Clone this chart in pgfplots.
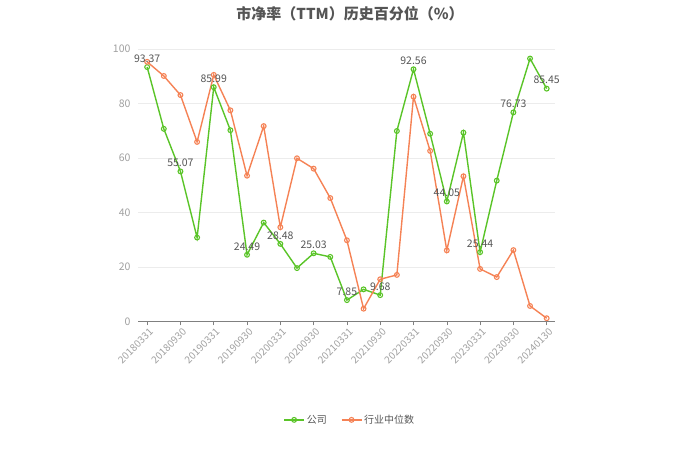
\documentclass[border=0pt]{standalone}
\usepackage{pgfplots}
\pgfplotsset{compat=1.18}
\usepackage{fontspec}
\setmainfont{Noto Sans CJK SC}
\definecolor{cgreen}{RGB}{90,196,40}
\definecolor{corange}{RGB}{245,130,85}
\definecolor{tickgray}{RGB}{160,160,160}
\definecolor{labgray}{RGB}{85,85,85}
\begin{document}
\begin{tikzpicture}[x=1pt,y=1pt]
\path (0,0) rectangle (700,473);
\node[font=\bfseries\fontsize{15}{17}\selectfont, text=labgray] at (350,459) {市净率（TTM）历史百分位（\%）};
\begin{axis}[
  at={(138pt,151.5pt)}, anchor=south west,
  scale only axis, width=417pt, height=272.5pt,
  xmin=-0.55, xmax=24.5, ymin=0, ymax=100,
  axis y line*=left, axis x line*=bottom,
  y axis line style={draw=none},
  x axis line style={draw=gray, line width=0.8pt},
  ytick={0,20,40,60,80,100},
  ymajorgrids, grid style={draw=gray!15, line width=0.6pt},
  major y tick style={draw=none},
  xtick={0,2,...,24},
  xticklabels={20180331,20180930,20190331,20190930,20200331,20200930,20210331,20210930,20220331,20220930,20230331,20230930,20240130},
  x tick label style={rotate=45, anchor=north east, font=\fontsize{10}{10}\selectfont, text=tickgray, inner sep=0.5pt, yshift=-2pt},
  y tick label style={font=\fontsize{10.5}{10}\selectfont, text=tickgray},
  /pgf/number format/assume math mode=true,
  major x tick style={draw=gray, line width=0.6pt},
  tick align=outside, major tick length=4pt,
  clip=false,
  legend style={at={(0.508,-0.361)}, anchor=center, draw=none, fill=none,
    legend columns=2, font=\fontsize{10}{10}\selectfont, text=labgray,
    /tikz/every even column/.append style={column sep=12pt}},
  legend cell align=left,
  legend image code/.code={\draw[#1, mark repeat=2, mark phase=2] plot coordinates {(0pt,0pt) (10pt,0pt) (20pt,0pt)};},
]
\addplot[color=cgreen, line width=1.4pt, mark=o, mark size=2.4pt, mark options={fill=white, line width=1.1pt}]
coordinates {(0,93.37)(1,70.7)(2,55.07)(3,30.8)(4,85.99)(5,70.2)(6,24.49)(7,36.3)(8,28.48)(9,19.6)(10,25.03)(11,23.7)(12,7.85)(13,11.8)(14,9.68)(15,69.9)(16,92.56)(17,68.9)(18,44.05)(19,69.3)(20,25.44)(21,51.7)(22,76.73)(23,96.5)(24,85.45)};
\addlegendentry{公司}
\addplot[color=corange, line width=1.4pt, mark=o, mark size=2.4pt, mark options={fill=white, line width=1.1pt}]
coordinates {(0,95.3)(1,90.1)(2,83.1)(3,65.9)(4,90.5)(5,77.5)(6,53.5)(7,71.7)(8,34.6)(9,59.9)(10,56.1)(11,45.3)(12,29.8)(13,4.7)(14,15.5)(15,17.1)(16,82.5)(17,62.6)(18,26.1)(19,53.3)(20,19.3)(21,16.3)(22,26.2)(23,5.7)(24,1.2)};
\addlegendentry{行业中位数}
\addplot[draw=none, mark=none, nodes near coords, point meta=explicit symbolic,
  every node near coord/.append style={font=\fontsize{10.5}{10}\selectfont, text=labgray, anchor=south, yshift=1pt}, forget plot]
table[meta=l] {
x y l
0 93.37 93.37
2 55.07 55.07
4 85.99 85.99
6 24.49 24.49
8 28.48 28.48
10 25.03 25.03
12 7.85 7.85
14 9.68 9.68
16 92.56 92.56
18 44.05 44.05
20 25.44 25.44
22 76.73 76.73
24 85.45 85.45
};
\end{axis}
\end{tikzpicture}
\end{document}
